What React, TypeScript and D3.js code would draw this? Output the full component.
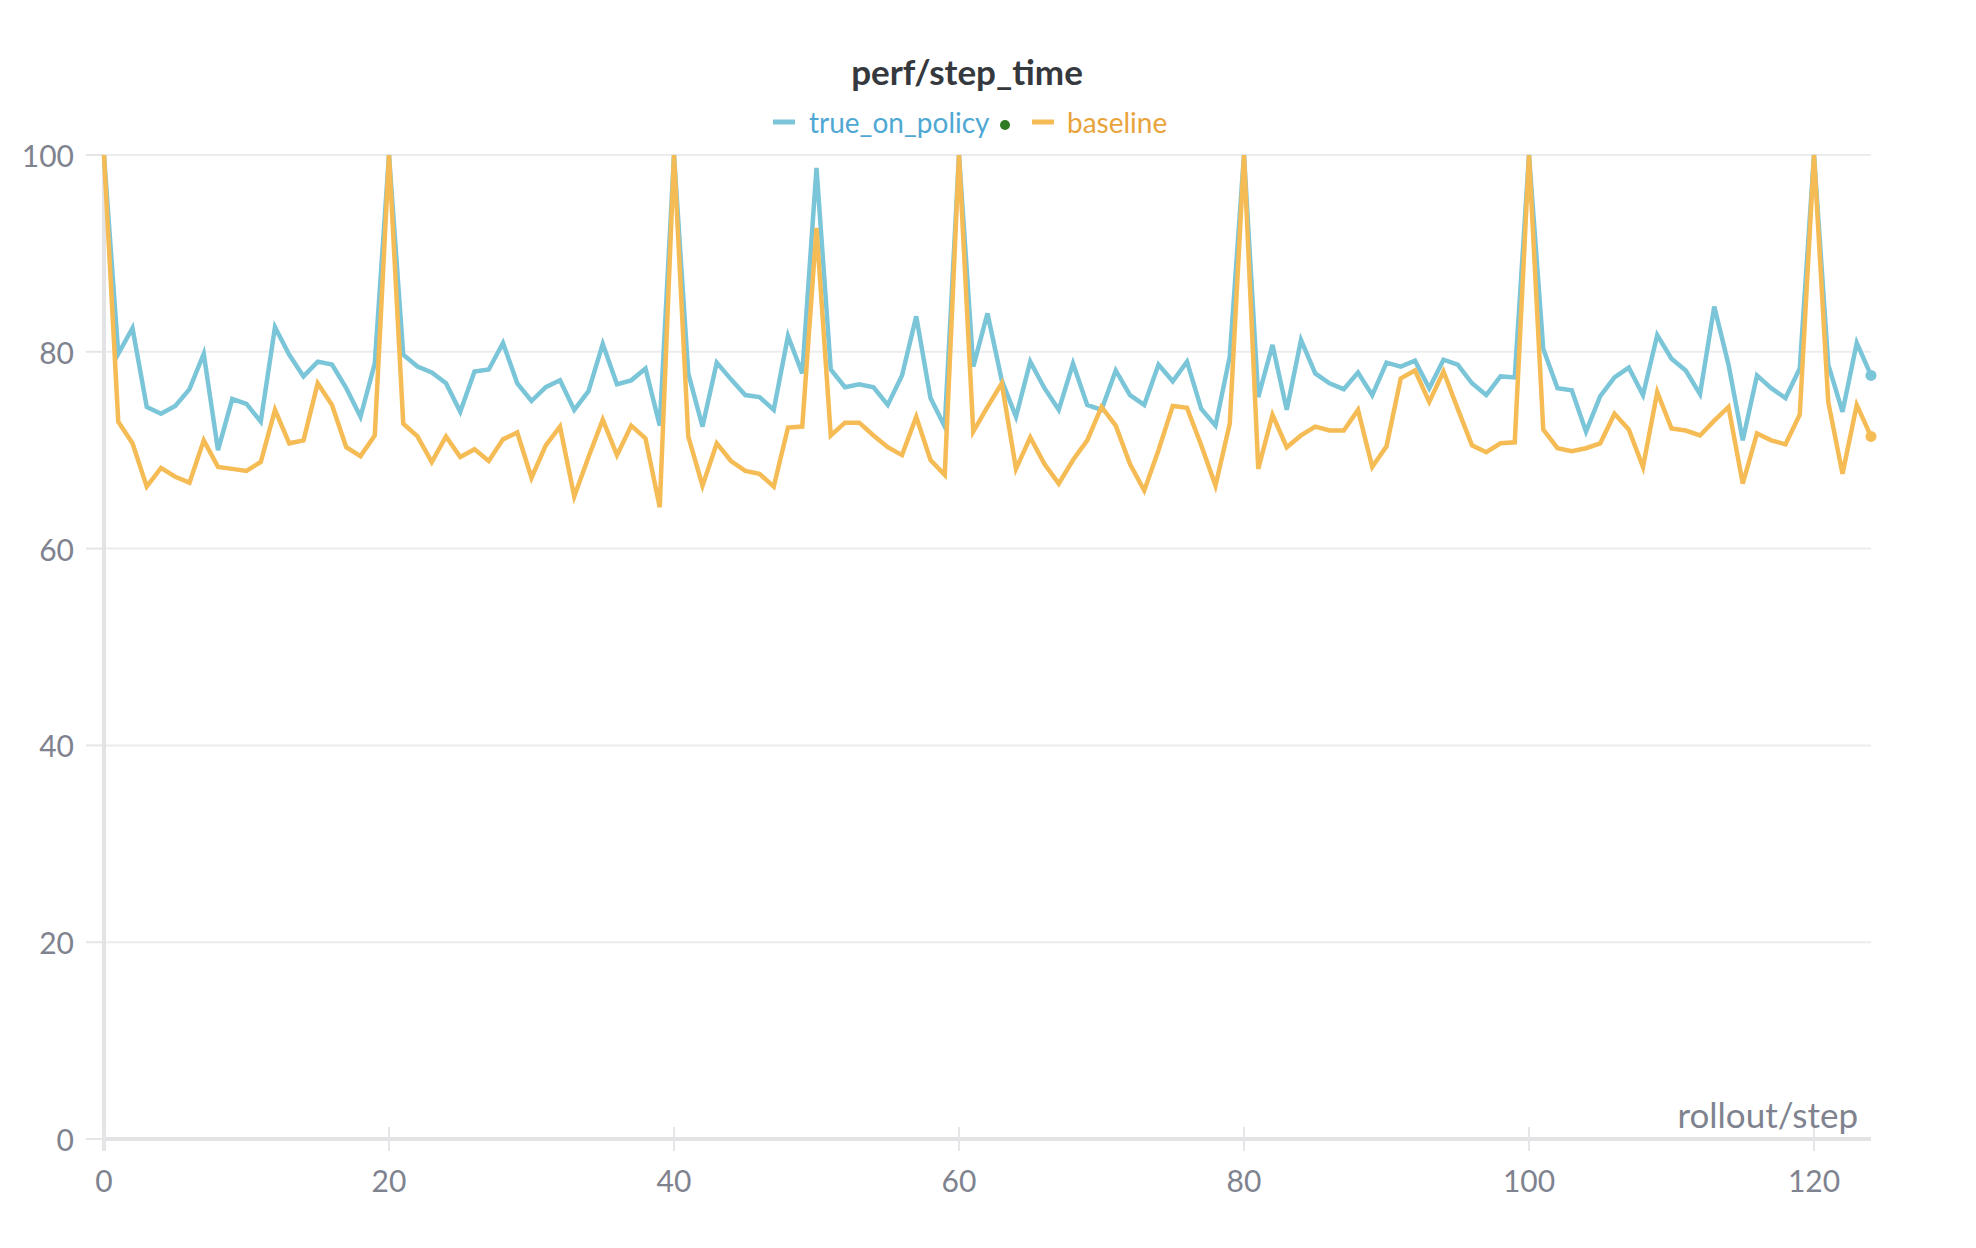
import * as d3 from "d3";
import React from "react";

const steps = d3.range(0, 125);

const trueOnPolicy = [
  100, 79.8, 82.4, 74.4, 73.7, 74.5, 76.2, 79.8, 70.0, 75.2,
  74.7, 72.9, 82.5, 79.7, 77.5, 79.0, 78.7, 76.3, 73.4, 78.8,
  100, 79.7, 78.5, 77.9, 76.8, 73.9, 78.0, 78.2, 80.9, 76.8,
  75.0, 76.4, 77.1, 74.1, 76.0, 80.8, 76.7, 77.1, 78.3, 72.5,
  100, 77.8, 72.4, 78.9, 77.2, 75.6, 75.4, 74.1, 81.6, 77.8,
  98.7, 78.2, 76.4, 76.7, 76.4, 74.6, 77.6, 83.6, 75.3, 72.4,
  100, 78.5, 83.9, 77.1, 73.4, 79.0, 76.3, 74.1, 78.8, 74.6,
  74.1, 78.1, 75.6, 74.6, 78.7, 77.0, 79.0, 74.2, 72.5, 79.5,
  100, 75.4, 80.7, 74.1, 81.2, 77.8, 76.8, 76.2, 77.9, 75.6,
  78.9, 78.5, 79.1, 76.3, 79.2, 78.7, 76.8, 75.6, 77.5, 77.4,
  100, 80.3, 76.3, 76.1, 71.9, 75.5, 77.4, 78.4, 75.6, 81.7,
  79.3, 78.1, 75.7, 84.6, 78.7, 71.0, 77.6, 76.3, 75.3, 78.3,
  100, 78.7, 73.9, 80.9, 77.6,
];

const baseline = [
  100, 72.9, 70.7, 66.3, 68.2, 67.3, 66.7, 71.0, 68.3, 68.1,
  67.9, 68.8, 74.1, 70.7, 71.0, 76.8, 74.6, 70.3, 69.4, 71.5,
  100, 72.7, 71.4, 68.8, 71.4, 69.3, 70.1, 68.9, 71.1, 71.8,
  67.2, 70.5, 72.4, 65.3, 69.3, 73.1, 69.5, 72.5, 71.2, 64.2,
  100, 71.4, 66.4, 70.7, 68.9, 67.9, 67.6, 66.3, 72.3, 72.4,
  92.6, 71.5, 72.8, 72.8, 71.5, 70.3, 69.5, 73.4, 69.0, 67.5,
  100, 71.9, 74.4, 76.8, 68.1, 71.3, 68.6, 66.6, 69.0, 71.0,
  74.4, 72.5, 68.6, 65.9, 70.0, 74.5, 74.3, 70.5, 66.4, 72.7,
  100, 68.1, 73.6, 70.3, 71.5, 72.4, 72.0, 72.0, 74.1, 68.3,
  70.4, 77.3, 78.1, 74.9, 78.0, 74.2, 70.5, 69.8, 70.7, 70.8,
  100, 72.1, 70.2, 69.9, 70.2, 70.7, 73.7, 72.1, 68.3, 75.9,
  72.2, 72.0, 71.5, 73.0, 74.4, 66.6, 71.7, 71.0, 70.6, 73.6,
  100, 74.9, 67.6, 74.6, 71.4,
];

const yTicks = [0, 20, 40, 60, 80, 100];
const xTicks = [0, 20, 40, 60, 80, 100, 120];

const series = [
  { name: "true_on_policy", values: trueOnPolicy, stroke: "#7bc5d9", text: "#4fa8d3" },
  { name: "baseline", values: baseline, stroke: "#f5bb55", text: "#e9a33b" },
];

const W = 1976;
const H = 1248;
const FONT = "Lato, 'Noto Sans', sans-serif";

export default function App() {
  const x = d3.scaleLinear().domain([0, 124]).range([104, 1871]);
  const y = d3.scaleLinear().domain([0, 100]).range([1139, 155]);

  const line = d3
    .line<number>()
    .x((_, i) => x(steps[i]))
    .y((d) => y(d));

  const tickColor = "#7f838f";
  const last = steps[steps.length - 1];

  return (
    <svg
      width={W}
      height={H}
      style={{ position: "absolute", left: 0, top: 0, background: "#fff" }}
      fontFamily={FONT}
    >
      <text x={967} y={85} textAnchor="middle" fontSize={35} fontWeight={700} fill="#35393e">
        perf/step_time
      </text>

      {/* legend */}
      <g>
        <line x1={773} x2={795} y1={122} y2={122} stroke={series[0].stroke} strokeWidth={5} />
        <text x={809} y={122} dominantBaseline="central" fontSize={28} fill={series[0].text}>
          true_on_policy
        </text>
        <circle cx={1005} cy={125} r={5} fill="#2f7a22" />
        <line x1={1032} x2={1054} y1={122} y2={122} stroke={series[1].stroke} strokeWidth={5} />
        <text x={1067} y={122} dominantBaseline="central" fontSize={28} fill={series[1].text}>
          baseline
        </text>
      </g>

      {/* grid + y ticks */}
      {yTicks.map((t) => (
        <g key={t}>
          {t > 0 && (
            <line x1={104} x2={1871} y1={y(t)} y2={y(t)} stroke="#ececee" strokeWidth={2} />
          )}
          <line x1={86} x2={104} y1={y(t)} y2={y(t)} stroke="#e6e6e9" strokeWidth={2} />
          <text
            x={74}
            y={y(t)}
            textAnchor="end"
            dominantBaseline="central"
            fontSize={30}
            fill={tickColor}
          >
            {t}
          </text>
        </g>
      ))}

      {/* axes */}
      <line x1={104} x2={104} y1={155} y2={1151} stroke="#e3e3e6" strokeWidth={4} />
      <line x1={104} x2={1871} y1={1139} y2={1139} stroke="#e3e3e6" strokeWidth={4} />
      {xTicks.map((t) => (
        <g key={t}>
          <line x1={x(t)} x2={x(t)} y1={1127} y2={1151} stroke="#e6e6e9" strokeWidth={2} />
          <text
            x={x(t)}
            y={1180}
            textAnchor="middle"
            dominantBaseline="central"
            fontSize={30}
            fill={tickColor}
          >
            {t}
          </text>
        </g>
      ))}
      <text x={1858} y={1114} textAnchor="end" dominantBaseline="central" fontSize={35} fill={tickColor}>
        rollout/step
      </text>

      {/* lines, baseline drawn on top */}
      {series.map((s) => (
        <g key={s.name}>
          <path
            d={line(s.values) ?? ""}
            fill="none"
            stroke={s.stroke}
            strokeWidth={4.5}
            strokeLinejoin="miter"
          />
          <circle cx={x(last)} cy={y(s.values[s.values.length - 1])} r={5.5} fill={s.stroke} />
        </g>
      ))}
    </svg>
  );
}
